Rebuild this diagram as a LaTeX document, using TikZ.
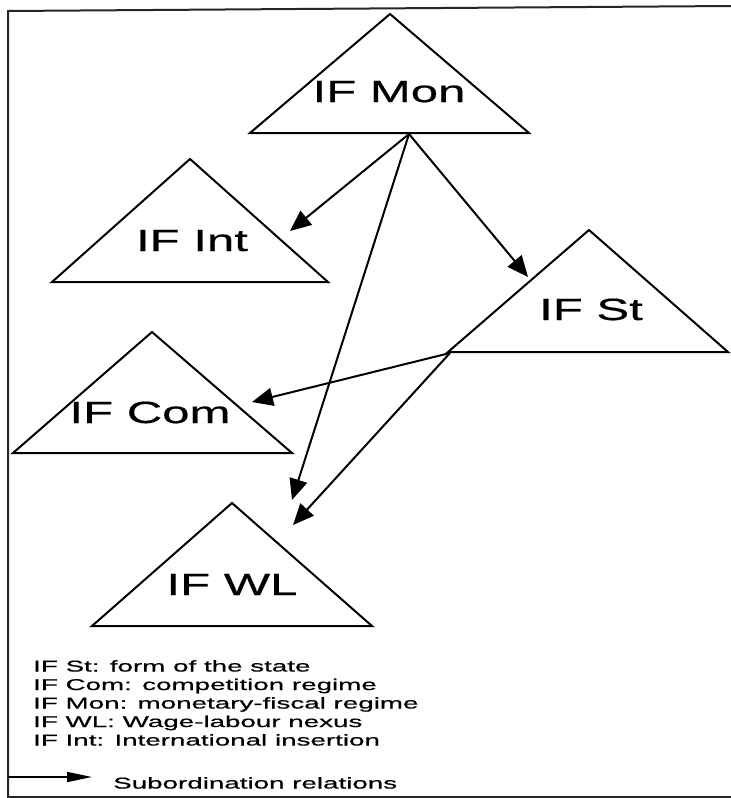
\documentclass[tikz,border=0pt]{standalone}
\usepackage{fontspec}
\usetikzlibrary{arrows.meta}
\newfontfamily\labfont[FakeStretch=1.6,FakeBold=0.6]{Liberation Sans}
\newfontfamily\legfont[FakeStretch=1.78,FakeBold=0.6]{Liberation Sans}
\tikzset{
  tri/.style={draw=black, line width=2pt, line join=miter, fill=white},
  lab/.style={anchor=base, inner sep=0pt, font=\labfont\fontsize{30.7}{34}\selectfont},
  leg/.style={anchor=base west, inner sep=0pt, font=\legfont\fontsize{15.6}{18}\selectfont},
  rel/.style={draw=black, line width=2pt, -{Triangle[length=21pt,width=18pt]}},
  legrel/.style={draw=black, line width=1.6pt, -{Triangle[length=25pt,width=10pt]}},
  frame/.style={draw=black!85, line width=2pt}
}
\begin{document}
\begin{tikzpicture}[x=1pt,y=-1pt]
\useasboundingbox (0,0) rectangle (731,798);
% frame
\draw[frame] (731,6) -- (8,11) -- (8,797) -- (731,797);
% triangles
\draw[tri] (250,133) -- (390,14) -- (529,133) -- cycle;
\draw[tri] (52,282) -- (190,159) -- (328,282) -- cycle;
\draw[tri] (448,352) -- (589,230) -- (728,352) -- cycle;
\draw[tri] (13,453) -- (152,332) -- (292,453) -- cycle;
\draw[tri] (92,626) -- (232,503) -- (372,626) -- cycle;
% labels
\node[lab] (mon) at (389,102) {IF Mon};
\node[lab] (int) at (192,251) {IF Int};
\node[lab] (st)  at (591,320) {IF St};
\node[lab] (com) at (150,423) {IF Com};
\node[lab] (wl)  at (232,595) {IF WL};
% connector end points
\coordinate (monB) at (409,134);
\coordinate (stB)  at (450,353);
\coordinate (intT) at (290,231);
\coordinate (stT)  at (528,277);
\coordinate (wlT1) at (292,500);
\coordinate (wlT2) at (293,525);
\coordinate (comT) at (252,402);
% connectors
\draw[rel] (monB) -- (intT);
\draw[rel] (monB) -- (stT);
\draw[rel] (monB) -- (wlT1);
\draw[rel] (stB) -- (comT);
\draw[rel] (stB) -- (wlT2);
% legend
\node[leg] (l1) at (33,671.5) {IF St: form of the state};
\node[leg] (l2) at (33,690) {IF Com: competition regime};
\node[leg] (l3) at (33,708.5) {IF Mon: monetary-fiscal regime};
\node[leg] (l4) at (33,727) {IF WL: Wage-labour nexus};
\node[leg] (l5) at (33,745.5) {IF Int: International insertion};
\coordinate (ls) at (8,777);
\coordinate (le) at (92,777);
\draw[legrel] (ls) -- (le);
\node[leg] (sub) at (113,788.5) {Subordination relations};
\end{tikzpicture}
\end{document}
